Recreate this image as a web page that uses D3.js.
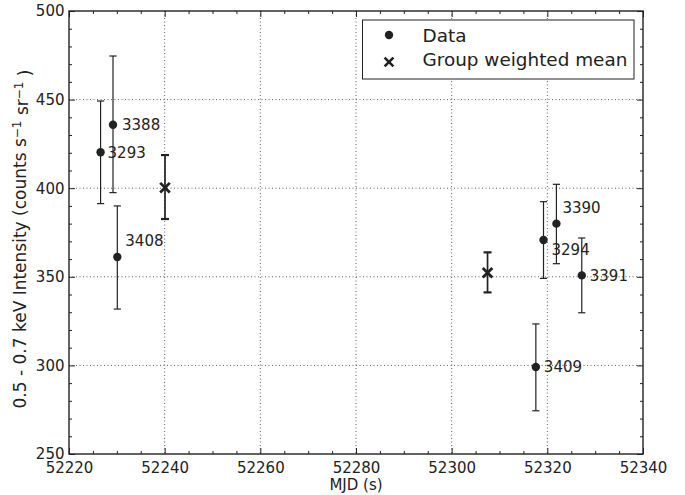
<!DOCTYPE html>
<html><head><meta charset="utf-8">
<script src="https://cdn.jsdelivr.net/npm/d3@7"></script>
<style>body{margin:0;background:#fff}svg{display:block}text{font-family:"DejaVu Sans",sans-serif;fill:#222}</style>
</head><body><svg id="c" width="685" height="495"></svg>
<script>
const obsIds = ["3293","3388","3408","3409","3294","3390","3391"];
const mjd    = [52226.6,52229.2,52230.1,52317.6,52319.2,52321.9,52327.2];
const intensity = [420.3,435.8,361.2,299.1,370.8,380.0,350.8];
const errLow  = [391.3,397.5,331.8,274.4,349.1,357.4,329.7];
const errHigh = [449.2,474.6,390.0,323.4,392.4,402.2,371.9];
const labelDx = [7,9,8,8,8,6,8];
const labelDy = [0,0,-16,0,10,-16,0];
const meanMjd = [52240.07,52307.5];
const meanVal = [400.3,352.3];
const meanLow = [382.6,341.2];
const meanHigh= [418.7,363.8];
const xTicks = [52220,52240,52260,52280,52300,52320,52340];
const yTicks = [250,300,350,400,450,500];
const legendLabels = ["Data","Group weighted mean"];

const L=69,R=643,T=11,B=454;
const svg=d3.select("#c");
const x=d3.scaleLinear().domain([52220,52340]).range([L,R]);
const y=d3.scaleLinear().domain([250,500]).range([B,T]);
const ink="#222";

// grid
const g=svg.append("g");
g.selectAll(".gx").data(xTicks.slice(1,-1)).join("line")
 .attr("x1",d=>x(d)).attr("x2",d=>x(d)).attr("y1",T).attr("y2",B)
 .attr("stroke","#333").attr("stroke-width",0.8).attr("stroke-dasharray","1,2.5");
g.selectAll(".gy").data(yTicks.slice(1,-1)).join("line")
 .attr("y1",d=>y(d)).attr("y2",d=>y(d)).attr("x1",L).attr("x2",R)
 .attr("stroke","#333").attr("stroke-width",0.8).attr("stroke-dasharray","1,2.5");

// axes with inward ticks
const xMinor=d3.range(52220,52341,5).filter(v=>!xTicks.includes(v));
const yMinor=d3.range(250,501,10).filter(v=>!yTicks.includes(v));
function ax(gen,tr){return svg.append("g").attr("transform",tr).call(gen).call(s=>s.select(".domain").remove());}
const fs="15px";
const xb=ax(d3.axisBottom(x).tickValues(xTicks).tickSize(-6).tickPadding(8).tickFormat(d3.format("d")),`translate(0,${B})`);
xb.selectAll("text").style("font-size",fs).attr("fill",ink);
ax(d3.axisBottom(x).tickValues(xMinor).tickSize(-3).tickFormat(""),`translate(0,${B})`);
ax(d3.axisTop(x).tickValues(xTicks).tickSize(-6).tickFormat(""),`translate(0,${T})`);
ax(d3.axisTop(x).tickValues(xMinor).tickSize(-3).tickFormat(""),`translate(0,${T})`);
const yl=ax(d3.axisLeft(y).tickValues(yTicks).tickSize(-6).tickPadding(4.5),`translate(${L},0)`);
yl.selectAll("text").style("font-size",fs).attr("fill",ink);
ax(d3.axisLeft(y).tickValues(yMinor).tickSize(-3).tickFormat(""),`translate(${L},0)`);
ax(d3.axisRight(y).tickValues(yTicks).tickSize(-6).tickFormat(""),`translate(${R},0)`);
ax(d3.axisRight(y).tickValues(yMinor).tickSize(-3).tickFormat(""),`translate(${R},0)`);
svg.selectAll(".tick line").attr("stroke",ink).attr("stroke-width",1);
svg.append("rect").attr("x",L).attr("y",T).attr("width",R-L).attr("height",B-T)
 .attr("fill","none").attr("stroke",ink).attr("stroke-width",1.4);

// data error bars
const cap=3.6;
const dg=svg.append("g");
obsIds.forEach((id,i)=>{
  const cx=x(mjd[i]);
  dg.append("line").attr("x1",cx).attr("x2",cx).attr("y1",y(errLow[i])).attr("y2",y(errHigh[i])).attr("stroke",ink).attr("stroke-width",1.2);
  [errLow[i],errHigh[i]].forEach(v=>dg.append("line").attr("x1",cx-cap).attr("x2",cx+cap).attr("y1",y(v)).attr("y2",y(v)).attr("stroke",ink).attr("stroke-width",1.2));
  dg.append("circle").attr("cx",cx).attr("cy",y(intensity[i])).attr("r",4.2).attr("fill",ink);
  dg.append("text").attr("x",cx+labelDx[i]).attr("y",y(intensity[i])+labelDy[i]).attr("dy","0.36em").style("font-size","15px").text(id);
});
// means
function xmark(sel,cx,cy,s,w){
  sel.append("path").attr("d",`M${cx-s},${cy-s}L${cx+s},${cy+s}M${cx-s},${cy+s}L${cx+s},${cy-s}`).attr("stroke",ink).attr("stroke-width",w).attr("fill","none");
}
meanMjd.forEach((m,i)=>{
  const cx=x(m);
  dg.append("line").attr("x1",cx).attr("x2",cx).attr("y1",y(meanLow[i])).attr("y2",y(meanHigh[i])).attr("stroke",ink).attr("stroke-width",1.7);
  [meanLow[i],meanHigh[i]].forEach(v=>dg.append("line").attr("x1",cx-4).attr("x2",cx+4).attr("y1",y(v)).attr("y2",y(v)).attr("stroke",ink).attr("stroke-width",2.2));
  xmark(dg,cx,y(meanVal[i]),4.8,2.8);
});

// legend
const lg=svg.append("g");
lg.append("rect").attr("x",362.5).attr("y",20).attr("width",271.5).attr("height",59).attr("fill","#fff").attr("stroke",ink).attr("stroke-width",1);
lg.append("circle").attr("cx",389).attr("cy",35).attr("r",4.2).attr("fill",ink);
xmark(lg,389,62,4.4,2.6);
const legY=[35.5,59.5];
legendLabels.forEach((t,i)=>lg.append("text").attr("x",422.5).attr("y",legY[i]).attr("dy","0.36em").style("font-size","18.4px").text(t));

// axis labels
svg.append("text").attr("x",(L+R)/2).attr("y",489.5).attr("text-anchor","middle").style("font-size","15px").text("MJD (s)");
const ylab=svg.append("text").attr("transform",`translate(26,239) rotate(-90)`).attr("text-anchor","middle").style("font-size","17px");
ylab.append("tspan").text("0.5 - 0.7 keV Intensity (counts s");
ylab.append("tspan").attr("dy","-0.45em").style("font-size","12px").text("\u22121");
ylab.append("tspan").attr("dy","0.45em").text(" sr");
ylab.append("tspan").attr("dy","-0.45em").style("font-size","12px").text("\u22121");
ylab.append("tspan").attr("dy","0.45em").text(" )");
</script></body></html>
